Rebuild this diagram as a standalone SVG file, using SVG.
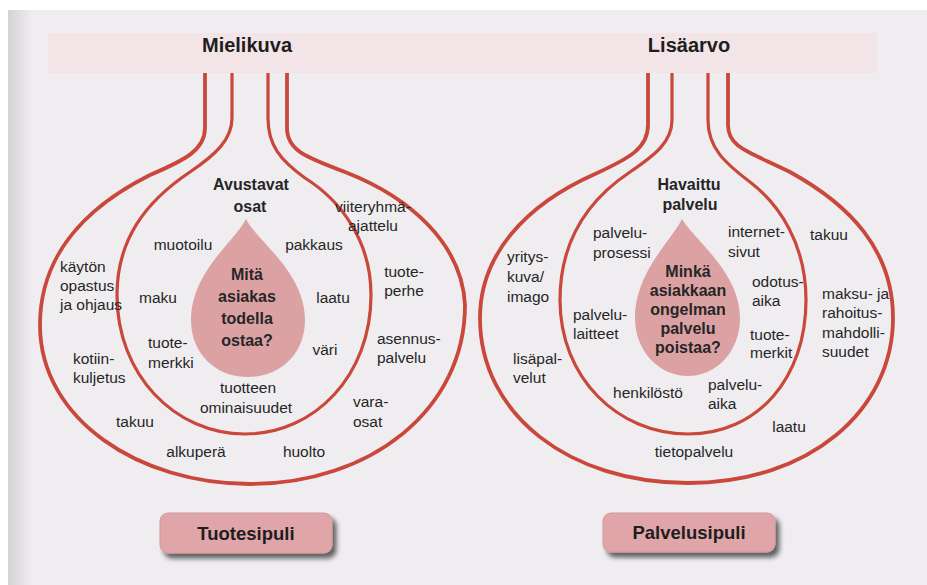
<svg xmlns="http://www.w3.org/2000/svg" width="927" height="585" viewBox="0 0 927 585">
  <defs>
    <style>
      .ring-o { fill: none; stroke: #c9473b; stroke-width: 3.8; stroke-linejoin: round; stroke-linecap: butt; }
      .ring-i { fill: none; stroke: #c9473b; stroke-width: 3.2; stroke-linejoin: round; stroke-linecap: butt; }
      .drop { fill: #dca2a3; stroke: none; }
      .lbl { font-family: "Liberation Sans", Arial, sans-serif; font-size: 15.5px; fill: #262626; }
      .bold { font-family: "Liberation Sans", Arial, sans-serif; font-size: 16px; font-weight: bold; fill: #262626; }
      .title { font-family: "Liberation Sans", Arial, sans-serif; font-size: 20px; font-weight: bold; fill: #1e1e1e; }
      .boxtxt { font-family: "Liberation Sans", Arial, sans-serif; font-size: 18.5px; font-weight: bold; fill: #1e1e1e; }
      .mid { text-anchor: middle; }
      .box { fill: #e0a5a8; stroke: #d49a9d; stroke-width: 1; }
    </style>
    <linearGradient id="gutter" x1="0" y1="0" x2="1" y2="0">
      <stop offset="0" stop-color="#d4d2d5"/>
      <stop offset="1" stop-color="#efedf0"/>
    </linearGradient>
    <filter id="shadow" x="-20%" y="-30%" width="150%" height="180%">
      <feGaussianBlur in="SourceAlpha" stdDeviation="2.5"/>
      <feOffset dx="4" dy="5" result="b"/>
      <feComponentTransfer><feFuncA type="linear" slope="0.6"/></feComponentTransfer>
      <feMerge><feMergeNode/><feMergeNode in="SourceGraphic"/></feMerge>
    </filter>
  </defs>

  <!-- page background -->
  <rect x="0" y="0" width="927" height="585" fill="#ffffff"/>
  <rect x="8" y="10" width="919" height="575" fill="#efedf0"/>
  <rect x="8" y="10" width="24" height="575" fill="url(#gutter)"/>
  <rect x="48" y="33" width="829" height="40" fill="#f3e4e8"/>

  <!-- titles -->
  <g id="title-mielikuva"><text class="title mid" x="247" y="52">Mielikuva</text></g>
  <g id="title-lisaarvo"><text class="title mid" x="689" y="52">Lisäarvo</text></g>

  <!-- LEFT BULB: Tuotesipuli -->
  <g id="tuote-outer">
    <path class="ring-o" d="M205,73 L205,128 C205,150 185,160 150,175 C80,210 40,260 40,325 C40,420 140,484 250,484 C370,484 465,410 465,305 C462,245 412,198 345,172 C305,157 287,150 287,128 L287,73"/>
  </g>
  <g id="tuote-inner">
    <path class="ring-i" d="M232,73 L232,118 C232,140 215,155 190,172 C145,202 117,240 117,295 C117,375 175,434 245,434 C315,434 371,375 371,295 C371,240 340,200 305,178 C280,160 268,145 268,118 L268,73"/>
  </g>
  <g id="tuote-drop">
    <path class="drop" d="M246,219 C236,240 191,272 191,320 C191,354 216,377 248,377 C280,377 305,354 305,320 C305,272 256,240 246,219 Z"/>
    <text class="bold mid" x="247" y="280">Mitä</text>
    <text class="bold mid" x="247" y="302">asiakas</text>
    <text class="bold mid" x="247" y="324">todella</text>
    <text class="bold mid" x="247" y="346">ostaa?</text>
  </g>
  <g id="tuote-avustavat">
    <text class="bold mid" x="251" y="190">Avustavat</text>
    <text class="bold mid" x="250" y="212">osat</text>
  </g>
  <g id="tuote-labels">
    <text class="lbl mid" x="373" y="212">viiteryhmä-</text>
    <text class="lbl mid" x="373" y="231">ajattelu</text>
    <text class="lbl mid" x="183" y="250">muotoilu</text>
    <text class="lbl mid" x="314" y="250">pakkaus</text>
    <text class="lbl" x="60" y="272">käytön</text>
    <text class="lbl" x="60" y="291">opastus</text>
    <text class="lbl" x="60" y="310">ja ohjaus</text>
    <text class="lbl mid" x="158" y="303">maku</text>
    <text class="lbl mid" x="333" y="303">laatu</text>
    <text class="lbl mid" x="404" y="277">tuote-</text>
    <text class="lbl mid" x="404" y="296">perhe</text>
    <text class="lbl" x="148" y="348">tuote-</text>
    <text class="lbl" x="148" y="368">merkki</text>
    <text class="lbl mid" x="325" y="355">väri</text>
    <text class="lbl" x="377" y="344">asennus-</text>
    <text class="lbl" x="377" y="363">palvelu</text>
    <text class="lbl" x="73" y="364">kotiin-</text>
    <text class="lbl" x="73" y="383">kuljetus</text>
    <text class="lbl mid" x="248" y="393">tuotteen</text>
    <text class="lbl mid" x="246" y="413">ominaisuudet</text>
    <text class="lbl" x="353" y="407">vara-</text>
    <text class="lbl" x="353" y="427">osat</text>
    <text class="lbl mid" x="135" y="427">takuu</text>
    <text class="lbl mid" x="196" y="457">alkuperä</text>
    <text class="lbl mid" x="304" y="457">huolto</text>
  </g>
  <g id="box-tuotesipuli">
    <rect class="box" x="160" y="513" width="172" height="40" rx="8" filter="url(#shadow)"/>
    <text class="boxtxt mid" x="246" y="540">Tuotesipuli</text>
  </g>

  <!-- RIGHT BULB: Palvelusipuli -->
  <g id="palvelu-outer">
    <path class="ring-o" d="M648,73 L648,125 C648,148 630,158 595,174 C525,205 480,255 480,318 C480,415 570,483 688,483 C810,483 893,410 893,318 C893,250 850,205 790,172 C750,152 728,148 728,125 L728,73"/>
  </g>
  <g id="palvelu-inner">
    <path class="ring-i" d="M672,73 L672,120 C672,142 655,155 630,172 C585,202 560,245 560,300 C560,378 618,434 688,434 C758,434 806,378 806,300 C806,245 780,205 750,182 C725,163 708,148 708,120 L708,73"/>
  </g>
  <g id="palvelu-drop">
    <path class="drop" d="M682,219 C672,240 635,272 635,318 C635,352 660,376 688,376 C716,376 740,352 740,318 C740,272 694,240 682,219 Z"/>
    <text class="bold mid" x="688" y="277">Minkä</text>
    <text class="bold mid" x="688" y="296">asiakkaan</text>
    <text class="bold mid" x="688" y="315">ongelman</text>
    <text class="bold mid" x="688" y="334">palvelu</text>
    <text class="bold mid" x="688" y="353">poistaa?</text>
  </g>
  <g id="palvelu-havaittu">
    <text class="bold mid" x="689" y="190">Havaittu</text>
    <text class="bold mid" x="690" y="210">palvelu</text>
  </g>
  <g id="palvelu-labels">
    <text class="lbl" x="593" y="238">palvelu-</text>
    <text class="lbl" x="593" y="258">prosessi</text>
    <text class="lbl" x="728" y="237">internet-</text>
    <text class="lbl" x="728" y="257">sivut</text>
    <text class="lbl mid" x="829" y="240">takuu</text>
    <text class="lbl" x="507" y="262">yritys-</text>
    <text class="lbl" x="507" y="282">kuva/</text>
    <text class="lbl" x="507" y="302">imago</text>
    <text class="lbl" x="752" y="287">odotus-</text>
    <text class="lbl" x="752" y="306">aika</text>
    <text class="lbl" x="822" y="299">maksu- ja</text>
    <text class="lbl" x="822" y="318">rahoitus-</text>
    <text class="lbl" x="822" y="338">mahdolli-</text>
    <text class="lbl" x="822" y="357">suudet</text>
    <text class="lbl" x="573" y="320">palvelu-</text>
    <text class="lbl" x="573" y="339">laitteet</text>
    <text class="lbl" x="750" y="340">tuote-</text>
    <text class="lbl" x="750" y="358">merkit</text>
    <text class="lbl" x="513" y="364">lisäpal-</text>
    <text class="lbl" x="513" y="383">velut</text>
    <text class="lbl mid" x="648" y="398">henkilöstö</text>
    <text class="lbl" x="708" y="390">palvelu-</text>
    <text class="lbl" x="708" y="409">aika</text>
    <text class="lbl mid" x="789" y="432">laatu</text>
    <text class="lbl mid" x="694" y="457">tietopalvelu</text>
  </g>
  <g id="box-palvelusipuli">
    <rect class="box" x="603" y="513" width="172" height="39" rx="8" filter="url(#shadow)"/>
    <text class="boxtxt mid" x="689" y="539">Palvelusipuli</text>
  </g>
</svg>
